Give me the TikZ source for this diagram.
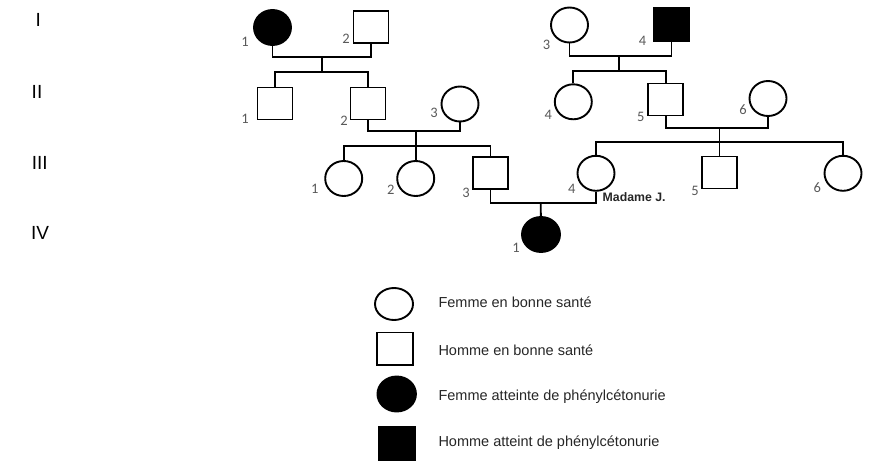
\documentclass[tikz,border=0pt]{standalone}
\usepackage{fontspec}
\setmainfont{Liberation Sans}
\newfontfamily\numfont{Carlito}
\usetikzlibrary{shapes.geometric, positioning}

\begin{document}
\begin{tikzpicture}[x=1pt, y=-1pt]
\tikzstyle{female} = [ellipse, draw=black, line width=1.9pt, minimum width=37pt, minimum height=35pt, inner sep=0pt, fill=white]
\tikzstyle{male} = [rectangle, draw=black, line width=1.9pt, minimum width=35pt, minimum height=32pt, inner sep=0pt, fill=white]
\tikzstyle{sick} = [fill=black]
\tikzstyle{link} = [line width=1.9pt]
\tikzstyle{num} = [font=\numfont\fontsize{14.5}{16}\selectfont, text=black!65, inner sep=0pt]
\tikzstyle{gen} = [font=\fontsize{19}{21}\selectfont, inner sep=0pt]
\tikzstyle{legtext} = [font=\fontsize{14.5}{17}\selectfont, text=black!85, anchor=west, inner sep=0pt]

\useasboundingbox (0,0) rectangle (869,460);

% generations
\node (gI) [gen] at (38.3,20) {I};
\node (gII) [gen] at (37,91.7) {II};
\node (gIII) [gen] at (39.7,163.3) {III};
\node (gIV) [gen] at (40,233.3) {IV};

% generation I
\node (I1) [female, sick] at (272.5,27.5) {};
\node (I2) [male] at (371,27) {};
\node (I3) [female] at (569.5,25) {};
\node (I4) [male, sick, minimum width=36pt, minimum height=33pt] at (671.5,24.5) {};

% generation II
\node (II1) [male] at (275,103.5) {};
\node (II2) [male] at (368,103.5) {};
\node (II3) [female] at (460,104) {};
\node (II4) [female] at (573.3,101.8) {};
\node (II5) [male] at (665.8,99.5) {};
\node (II6) [female] at (768,98.5) {};

% generation III
\node (III1) [female] at (343.7,178.5) {};
\node (III2) [female] at (415.7,178.5) {};
\node (III3) [male] at (490.5,173.3) {};
\node (III4) [female] at (596,173.3) {};
\node (III5) [male] at (719.5,172.5) {};
\node (III6) [female] at (843,173.3) {};
\node (madame) [anchor=west, inner sep=0pt, font=\bfseries\fontsize{12.3}{14}\selectfont, text=black!85] at (602.5,197.5) {Madame J.};

% generation IV
\node (IV1) [female, sick, minimum width=38pt] at (541,234.5) {};

% numbers
\foreach \p/\t/\dx/\dy in {I1/1/-27.5/14, I2/2/-25/12, I3/3/-23/20, I4/4/-29/16.5,
    II1/1/-30/15.5, II2/2/-24/17, II3/3/-26/9, II4/4/-25/13, II5/5/-25/17, II6/6/-25/11.5,
    III1/1/-29/10.5, III2/2/-25/11.5, III3/3/-24.5/19.4, III4/4/-24.3/15.7, III5/5/-24.5/18, III6/6/-25.7/14.4,
    IV1/1/-25/13.5}
  \node (n\p) [num] at ([shift={(\dx,\dy)}]\p.center) {\t};

% couples and children
\coordinate (m1) at (321.7,57.3);
\coordinate (s1) at (321.7,71.7);
\draw [link] (I1) |- (m1) -| (I2);
\draw [link] (m1) -- (s1);
\draw [link] (II1) |- (s1) -| (II2);

\coordinate (m2) at (619,55.7);
\coordinate (s2) at (619,70.7);
\draw [link] (I3) |- (m2) -| (I4);
\draw [link] (m2) -- (s2);
\draw [link] (II4) |- (s2) -| (II5);

\coordinate (m3) at (415.7,131.3);
\coordinate (s3) at (415.7,146);
\draw [link] (II2) |- (m3) -| (II3);
\draw [link] (m3) -- (III2);
\draw [link] (III1) |- (s3) -| (III3);

\coordinate (m4) at (719.5,128.3);
\coordinate (s4) at (719.5,142.3);
\draw [link] (II5) |- (m4) -| (II6);
\draw [link] (m4) -- (III5);
\draw [link] (III4) |- (s4) -| (III6);

\coordinate (m5) at (540.7,203.3);
\draw [link] (III3) |- (m5) -| (III4);
\draw [link] (m5) -- (IV1);

% legend
\node (kf) [female, minimum width=38pt, minimum height=32pt] at (394,304) {};
\node (km) [male, minimum width=36.5pt, minimum height=32.5pt] at (395,348.7) {};
\node (kfs) [female, sick, minimum width=38.5pt] at (396.7,394) {};
\node (kms) [male, sick, minimum width=36.5pt, minimum height=33pt] at (396.7,443.2) {};
\node (tf) [legtext] at (438.3,302.3) {Femme en bonne santé};
\node (tm) [legtext] at (438.3,350) {Homme en bonne santé};
\node (tfs) [legtext] at (438.3,396.7) {Femme atteinte de phénylcétonurie};
\node (tms) [legtext] at (438.3,442.7) {Homme atteint de phénylcétonurie};

\end{tikzpicture}
\end{document}
